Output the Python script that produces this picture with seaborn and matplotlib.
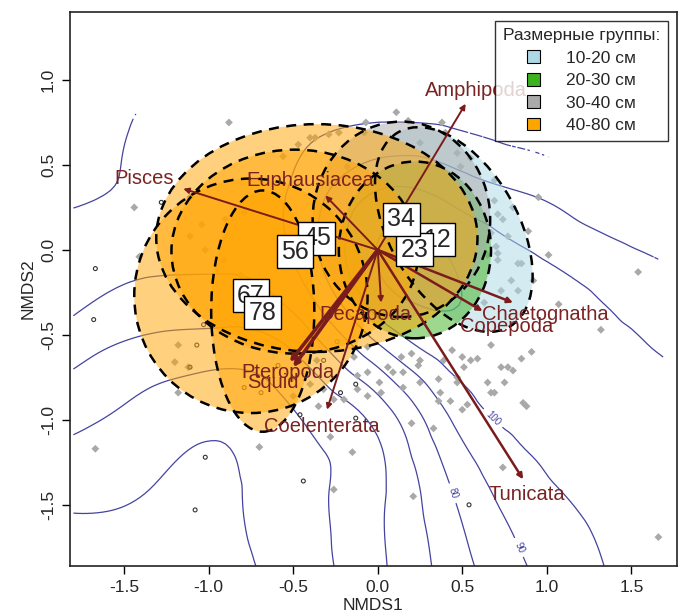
import numpy as np
import matplotlib
matplotlib.use("Agg")
import matplotlib.pyplot as plt
import matplotlib.tri as mtri
from matplotlib.path import Path
from matplotlib.patches import Ellipse, Patch
import seaborn as sns

sns.set_theme(style="white")
plt.rcParams['font.family'] = ['Liberation Sans', 'DejaVu Sans']

# ---------------- data ----------------
# fitted surface (ordisurf) read on a coarse grid
surf_x = [-1.8, -1.35, -0.9, -0.45, 0.0, 0.45, 0.9, 1.35, 1.8]
surf_y = [-1.9, -1.45, -1.0, -0.55, -0.1, 0.35, 0.8, 1.25, 1.5]
surf_z = [
    [33, 35, 37, 45, 58, 75, 90, 100, 105],
    [42, 39.5, 38.5, 47, 58, 80, 96, 103, 106],
    [52, 46, 42, 50, 63, 91, 103, 106, 102],
    [65, 58, 56, 64, 90, 106, 106, 102, 98],
    [74, 71, 71, 82, 110, 110, 102, 96, 89],
    [68, 72, 75, 83, 100, 96, 89, 80, 72],
    [62, 71, 73, 76, 78, 77, 73, 68, 62],
    [58, 62, 65, 67, 68, 67, 64, 60, 55],
    [55, 58, 61, 63, 64, 63, 60, 56, 52],
]
plain_levels = [40, 50, 60, 70]
labelled_levels = [80, 90, 100, 110]
# region where the surface is drawn
hull_x = [-1.85, 1.75, 1.70, 1.66, 1.00, 0.30, -0.50, -1.43, -1.85]
hull_y = [-1.95, -1.95, -0.70, -0.05, 0.55, 0.78, 0.80, 0.80, 0.20]
surf_label_x = [0.42, 0.86, 0.71, 0.15]
surf_label_y = [-1.44, -1.74, -0.96, 0.08]

# site scores
grey_x = [-1.18, -1.20, -1.12, -1.18, -1.67, -0.70, -0.26, -0.15, -0.14, -0.06, 0.06, 0.14, 0.20, 0.09,
          0.15, 0.24, -0.12, -0.06, 0.01, -0.12, -0.06, 0.02, -0.20, -0.26, -0.35, -0.28, 0.20, 0.21,
          -0.40, -0.32, -0.51, -0.50, -0.36, 0.71, 1.01, 0.85, 1.54, 0.79, 0.73, 1.07, 1.32, 0.67,
          0.91, 0.85, 0.59, 0.55, 0.50, 0.73, 0.77, 0.44, 0.36, 0.51, 0.65, 0.69, 0.80, 0.25, 0.15,
          0.39, 0.47, 0.75, 0.37, 0.25, 0.47, 0.67, 0.43, 0.36, 0.50, 0.53, 0.86, 0.88, 0.33, 0.74,
          1.66, 0.11, 0.18, -0.07, 0.38, 0.40, -0.08, 0.69, 0.95, 0.80, 0.69, 0.71, 0.74, 0.89, 0.92,
          0.83, 0.67, 0.70, 0.65, 0.71, 0.77, 0.83, 0.63, 0.25, 0.47, 0.55, 0.49, -0.88, -0.47, -0.37,
          -0.29, -0.23, -0.40, -1.11, -0.18, -0.56, -1.44, -1.41, -1.04, -0.90, -0.79, -0.91, -0.81,
          -1.02, -1.11]
grey_y = [-0.56, -0.66, -0.69, -0.84, -1.17, -1.16, -1.41, -1.19, -0.63, -0.57, -0.69, -0.63, -0.61, -0.72,
          -0.81, -0.68, -0.74, -0.72, -0.78, -0.82, -0.86, -0.84, -0.88, -0.88, -0.92, -1.10, -1.02, -1.45,
          -0.79, -0.82, -0.76, -0.86, -0.65, -0.02, -0.03, -0.08, -0.13, -0.18, -0.24, -0.32, -0.47, -0.56,
          -0.60, -0.64, -0.64, -0.65, -0.63, -0.69, -0.69, -0.59, -0.76, -0.69, -0.78, -0.84, -0.71, -0.65, -0.72,
          -0.65, -0.75, -0.78, -0.84, -0.78, -0.78, -0.84, -0.89, -0.89, -0.94, -0.91, -0.90, -0.92, -1.05, -1.28,
          -1.69, 0.81, 0.76, 0.75, 0.75, 0.69, 0.69, 0.41, 0.31, 0.25, 0.29, 0.21, 0.18, 0.11, -0.18,
          -0.08, 0.10, 0.02, -0.03, -0.06, 0.08, -0.24, -0.31, 0.63, 0.57, 0.54, 0.49, 0.75, 0.62, 0.66,
          0.68, 0.69, 0.66, 0.31, 0.49, 0.55, 0.25, -0.04, 0.15, 0.18, 0.22, -0.06, -0.15,
          0.00, 0.08]
circ_x = [-1.68, -1.07, -1.11, -1.02, -1.08, -0.44, -0.46, -0.13, -0.22, -0.13, -0.32, -0.59, -0.69,
          -0.79, -1.03, -0.24, -1.67, -1.28, 0.54]
circ_y = [-0.41, -0.56, -0.69, -1.22, -1.53, -1.36, -0.97, -0.99, -0.84, -0.79, -0.65, -0.68, -0.84,
          -0.81, -0.44, -0.54, -0.11, 0.28, -1.50]

# group ellipses (size classes, dm)
ell_label = ['12', '23', '34', '45', '56', '67', '78']
ell_group = ['10-20 см', '20-30 см', '30-40 см', '40-80 см', '40-80 см', '40-80 см', '40-80 см']
ell_cx = [0.45, 0.22, 0.14, -0.36, -0.49, -0.75, -0.68]
ell_cy = [0.12, 0.00, 0.18, 0.07, -0.01, -0.27, -0.36]
ell_w = [1.32, 0.90, 1.05, 1.90, 1.46, 1.38, 0.61]
ell_h = [0.76, 1.04, 1.15, 1.34, 1.20, 1.38, 1.42]
ell_angle = [-60, 0, 0, 0, 0, 0, 0]
# centroid label positions
cent_x = [0.35, 0.22, 0.14, -0.36, -0.49, -0.75, -0.68]
cent_y = [0.06, 0.00, 0.18, 0.07, -0.01, -0.27, -0.37]

groups = ['10-20 см', '20-30 см', '30-40 см', '40-80 см']
group_colors = ['#add8e6', '#3cb31e', '#a9a9a9', '#ffa500']

# envfit vectors
vec_name = ['Amphipoda', 'Pisces', 'Euphausiacea', 'Chaetognatha', 'Copepoda', 'Decapoda',
            'Pteropoda', 'Squid', 'Coelenterata', 'Tunicata']
vec_x = [0.52, -1.15, -0.31, 0.80, 0.62, 0.02, -0.50, -0.52, -0.30, 0.86]
vec_y = [0.86, 0.36, 0.32, -0.31, -0.36, -0.31, -0.69, -0.66, -0.94, -1.35]
lab_x = [0.58, -1.38, -0.40, 0.99, 0.76, -0.07, -0.53, -0.62, -0.33, 0.88]
lab_y = [0.94, 0.42, 0.41, -0.38, -0.45, -0.38, -0.72, -0.78, -1.04, -1.44]
vec_lw = [1.4, 1.4, 1.4, 1.8, 1.8, 1.4, 2.6, 2.6, 1.4, 1.8]

# ---------------- figure ----------------
fig = plt.figure(figsize=(6.81, 6.16), dpi=100)
ax = fig.add_axes([70 / 681, 50 / 616, 607 / 681, 554 / 616])
ax.set_xlim(-1.82, 1.77)
ax.set_ylim(-1.86, 1.40)

# surface contours: smooth cubic surface through the grid values (explicit grid triangulation)
nx, ny = len(surf_x), len(surf_y)
X, Y = np.meshgrid(surf_x, surf_y)
Z = np.array(surf_z, dtype=float)
cells = []
for j in range(ny - 1):
    for i in range(nx - 1):
        k = j * nx + i
        cells.append([k, k + 1, k + nx + 1])
        cells.append([k, k + nx + 1, k + nx])
tri = mtri.Triangulation(X.ravel(), Y.ravel(), triangles=np.array(cells))
interp = mtri.CubicTriInterpolator(tri, Z.ravel(), kind='min_E')
refiner = mtri.UniformTriRefiner(tri)
tri_f, z_f = refiner.refine_field(Z.ravel(), triinterpolator=interp, subdiv=4)
# hide the surface outside the sampled region
hull_path = Path(np.column_stack([hull_x, hull_y]))
cxy = np.column_stack([tri_f.x[tri_f.triangles].mean(axis=1), tri_f.y[tri_f.triangles].mean(axis=1)])
tri_f.set_mask(~hull_path.contains_points(cxy))
line_col = '#4444a0'
cs1 = ax.tricontour(tri_f, z_f, levels=plain_levels, colors=line_col, linewidths=0.9, zorder=1)
cs2 = ax.tricontour(tri_f, z_f, levels=labelled_levels, colors=line_col, linewidths=0.9, zorder=1)
ax.clabel(cs2, fmt='%d', fontsize=7, colors=line_col,
          manual=list(zip(surf_label_x, surf_label_y)), inline=True)

# points
sns.scatterplot(x=grey_x, y=grey_y, marker='D', s=16, color='#a9a9a9', edgecolor='none',
                ax=ax, zorder=2, legend=False)
ax.scatter(circ_x, circ_y, s=8, facecolors='none', edgecolors='#333333', linewidths=0.8, zorder=2)

# ellipses
gcol = dict(zip(groups, group_colors))
for cx, cy, w, h, a, g in zip(ell_cx, ell_cy, ell_w, ell_h, ell_angle, ell_group):
    ax.add_patch(Ellipse((cx, cy), w, h, angle=a, facecolor=gcol[g], alpha=0.5,
                         edgecolor='none', zorder=3))
for cx, cy, w, h, a in zip(ell_cx, ell_cy, ell_w, ell_h, ell_angle):
    ax.add_patch(Ellipse((cx, cy), w, h, angle=a, facecolor='none', edgecolor='black',
                         linestyle=(0, (4, 3)), linewidth=1.8, zorder=4))

# vectors
arrow_col = '#7b1c1c'
for x, y, lw in zip(vec_x, vec_y, vec_lw):
    ax.annotate('', xy=(x, y), xytext=(0, 0),
                arrowprops=dict(arrowstyle='-|>', color=arrow_col, lw=lw,
                                mutation_scale=8, shrinkA=0, shrinkB=0), zorder=5)
for n, x, y in zip(vec_name, lab_x, lab_y):
    ax.text(x, y, n, color='#7b2222', fontsize=14.5, ha='center', va='center', zorder=6)

# centroid labels
for t, x, y in zip(ell_label, cent_x, cent_y):
    ax.text(x, y, t, fontsize=18, ha='center', va='center', zorder=7,
            bbox=dict(boxstyle='square,pad=0.18', facecolor='white', edgecolor='black', lw=1))

# axes styling
ax.set_xticks([-1.5, -1.0, -0.5, 0.0, 0.5, 1.0, 1.5])
ax.set_yticks([-1.5, -1.0, -0.5, 0.0, 0.5, 1.0])
ax.set_xticklabels(['-1.5', '-1.0', '-0.5', '0.0', '0.5', '1.0', '1.5'], fontsize=12.5)
ax.set_yticklabels(['-1.5', '-1.0', '-0.5', '0.0', '0.5', '1.0'], fontsize=12.5,
                   rotation=90, va='center')
ax.tick_params(axis='both', direction='out', length=6, width=1, color='black',
               bottom=True, left=True, pad=4)
for s in ax.spines.values():
    s.set_color('#222222')
    s.set_linewidth(1.2)
ax.set_xlabel('NMDS1', fontsize=12.5, labelpad=2)
ax.set_ylabel('NMDS2', fontsize=12.5, labelpad=4)

handles = [Patch(facecolor=c, edgecolor='black', linewidth=0.8) for c in group_colors]
leg = ax.legend(handles, groups, title='Размерные группы:', loc='upper right',
                fontsize=12.5, title_fontsize=12.5, frameon=True, fancybox=False,
                edgecolor='black', handlelength=0.75, handleheight=0.75, handletextpad=1.5,
                borderaxespad=0.5, labelspacing=0.4, borderpad=0.45)
leg.get_frame().set_linewidth(1.0)
leg.set_zorder(10)

fig.savefig('out.png', dpi=100)
